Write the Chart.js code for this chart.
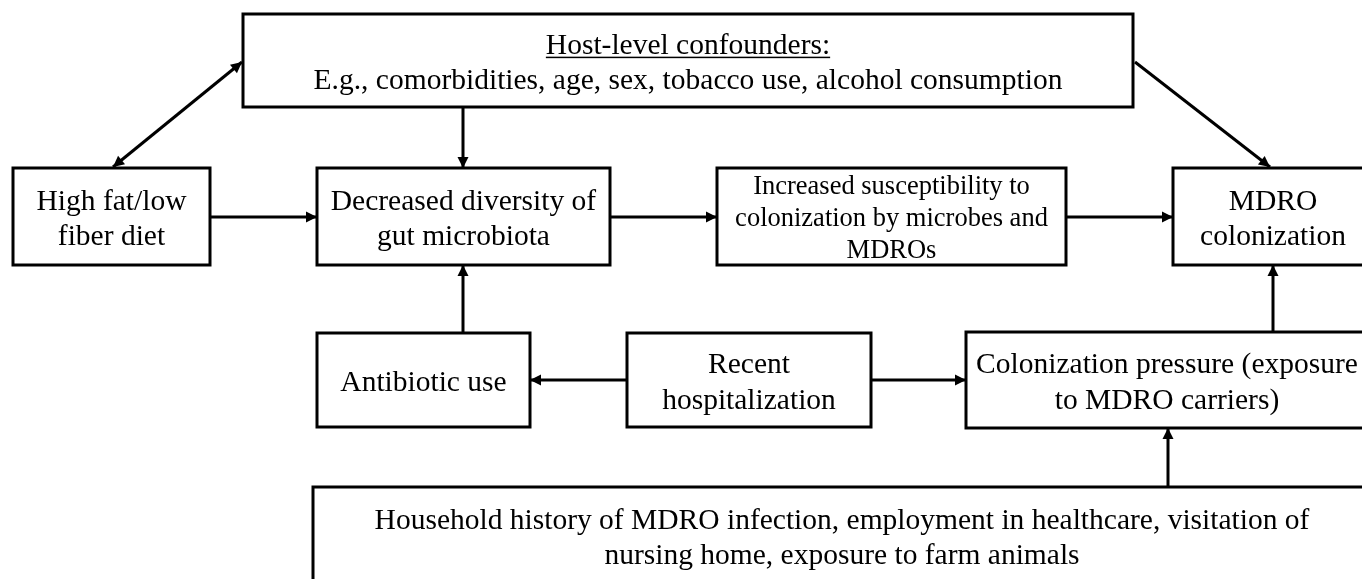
<!DOCTYPE html>
<html>
<head>
<meta charset="utf-8">
<script src="https://cdn.jsdelivr.net/npm/chart.js@4.4.0/dist/chart.umd.min.js"></script>
<style>
  html, body { margin: 0; padding: 0; background: #fff; }
  #wrap { width: 1362px; height: 579px; position: relative; }
</style>
</head>
<body>
<div id="wrap"><canvas id="flowChart"></canvas></div>
<script>
// boxes of the diagram (values in the chart's own x/y units, y grows downward)
const nodeLabels = [
  ["Host-level confounders:", "E.g., comorbidities, age, sex, tobacco use, alcohol consumption"],
  ["High fat/low", "fiber diet"],
  ["Decreased diversity of", "gut microbiota"],
  ["Increased susceptibility to", "colonization by microbes and", "MDROs"],
  ["MDRO", "colonization"],
  ["Antibiotic use"],
  ["Recent", "hospitalization"],
  ["Colonization pressure (exposure", "to MDRO carriers)"],
  ["Household history of MDRO infection, employment in healthcare, visitation of", "nursing home, exposure to farm animals"]
];
const nodeLeft   = [243, 13, 317, 717, 1173, 317, 627, 966, 313];
const nodeRight  = [1133, 210, 610, 1066, 1373, 530, 871, 1368, 1371];
const nodeTop    = [14, 168, 168, 168, 168, 333, 333, 332, 487];
const nodeBottom = [107, 265, 265, 265, 265, 427, 427, 428, 584];

// arrows: start point, end point (head at end), and whether start has a head too
const arrowStart = [[242, 62], [1135, 62], [463, 107], [210, 217], [610, 217], [1066, 217], [463, 333], [627, 380], [871, 380], [1273, 332], [1168, 487]];
const arrowEnd   = [[113, 167], [1270, 167], [463, 168], [317, 217], [717, 217], [1173, 217], [463, 265], [530, 380], [966, 380], [1273, 265], [1168, 428]];
const arrowBoth  = [true, false, false, false, false, false, false, false, false, false, false];

const FONT = '"Liberation Serif", "Times New Roman", serif';
const smallNode = 3;

const arrowDatasets = arrowStart.map((s, i) => ({
  data: [{ x: s[0], y: s[1] }, { x: arrowEnd[i][0], y: arrowEnd[i][1] }],
  showLine: true,
  borderColor: "#000",
  borderWidth: 3,
  pointRadius: 0,
  fill: false
}));

function drawHead(ctx, fx, fy, tx, ty) {
  const ang = Math.atan2(ty - fy, tx - fx);
  const len = 11, half = 5.5;
  ctx.save();
  ctx.translate(tx, ty);
  ctx.rotate(ang);
  ctx.beginPath();
  ctx.moveTo(0, 0);
  ctx.lineTo(-len, -half);
  ctx.lineTo(-len, half);
  ctx.closePath();
  ctx.fillStyle = "#000";
  ctx.fill();
  ctx.restore();
}

const flowPlugin = {
  id: "flowBoxes",
  afterDatasetsDraw(chart) {
    const ctx = chart.ctx;
    const xs = chart.scales.x, ys = chart.scales.y;

    // arrow heads
    arrowStart.forEach((s, i) => {
      const fx = xs.getPixelForValue(s[0]), fy = ys.getPixelForValue(s[1]);
      const tx = xs.getPixelForValue(arrowEnd[i][0]), ty = ys.getPixelForValue(arrowEnd[i][1]);
      drawHead(ctx, fx, fy, tx, ty);
      if (arrowBoth[i]) drawHead(ctx, tx, ty, fx, fy);
    });

    // boxes + text
    nodeLabels.forEach((lines, i) => {
      const x0 = xs.getPixelForValue(nodeLeft[i]), x1 = xs.getPixelForValue(nodeRight[i]);
      const y0 = ys.getPixelForValue(nodeTop[i]), y1 = ys.getPixelForValue(nodeBottom[i]);
      ctx.save();
      ctx.fillStyle = "#fff";
      ctx.fillRect(x0, y0, x1 - x0, y1 - y0);
      ctx.strokeStyle = "#000";
      ctx.lineWidth = 3;
      ctx.strokeRect(x0, y0, x1 - x0, y1 - y0);

      const size = i === smallNode ? 26.5 : 29.5;
      const lh = i === smallNode ? 32 : 35.5;
      ctx.font = size + "px " + FONT;
      ctx.fillStyle = "#000";
      ctx.textAlign = "center";
      ctx.textBaseline = "alphabetic";
      const cx = (x0 + x1) / 2, cy = (y0 + y1) / 2;
      lines.forEach((t, j) => {
        const by = cy + (j - (lines.length - 1) / 2) * lh + size * 0.37;
        ctx.fillText(t, cx, by);
        if (i === 0 && j === 0) {
          const w = ctx.measureText(t).width;
          ctx.fillRect(cx - w / 2, by + 3, w, 1.5);
        }
      });
      ctx.restore();
    });
  }
};

new Chart(document.getElementById("flowChart"), {
  type: "scatter",
  data: { datasets: arrowDatasets },
  options: {
    responsive: true,
    maintainAspectRatio: false,
    animation: false,
    events: [],
    layout: { padding: 0 },
    plugins: { legend: { display: false }, tooltip: { enabled: false } },
    scales: {
      x: { type: "linear", min: 0, max: 1362, display: false },
      y: { type: "linear", min: 0, max: 579, reverse: true, display: false }
    }
  },
  plugins: [flowPlugin]
});
</script>
</body>
</html>
